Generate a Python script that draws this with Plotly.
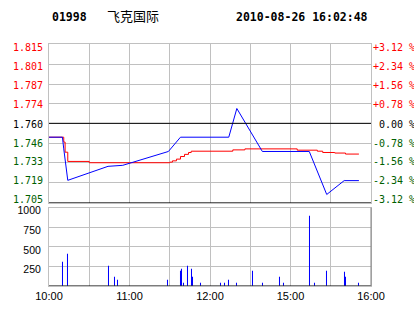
import plotly.graph_objects as go

# ---------------- data ----------------
code = "01998"
name = "飞克国际"
stamp = "2010-08-26 16:02:48"
prev_close = 1.760

price_min = [0, 10, 11, 14, 44, 55, 89, 98, 134, 140, 159, 194, 207, 220, 231]
price_val = [1.7504, 1.7504, 1.7423, 1.7205, 1.7302, 1.7309, 1.7405, 1.7504,
             1.7504, 1.7703, 1.7405, 1.7405, 1.7107, 1.7203, 1.7203]

avg_min = [0, 11, 12, 14, 30, 90, 92, 95, 98, 101, 104, 106, 137, 146, 185, 200, 204, 213, 221, 231]
avg_val = [1.7504, 1.7470, 1.7400, 1.7336, 1.7327, 1.7331, 1.7340, 1.7352, 1.7370, 1.7385,
           1.7398, 1.7407, 1.7416, 1.7423, 1.7414, 1.7407, 1.7398, 1.7394, 1.7387, 1.7387]

vol_min = [10, 14, 44, 49, 51, 88, 98, 99, 100, 103, 106, 107, 113, 128, 131, 134, 140,
           152, 159, 172, 175, 194, 198, 207, 220, 221, 231]
vol_val = [308, 409, 257, 118, 80, 80, 194, 219, 42, 257, 219, 118, 42, 42, 42, 80, 42,
           194, 42, 118, 42, 903, 42, 194, 181, 118, 42]

price_ticks = [1.815, 1.801, 1.787, 1.774, 1.760, 1.746, 1.733, 1.719, 1.705]
price_labels = ["1.815", "1.801", "1.787", "1.774", "1.760", "1.746", "1.733", "1.719", "1.705"]
pct_labels = ["+3.12 %", "+2.34 %", "+1.56 %", "+0.78 %", " 0.00 %", "-0.78 %", "-1.56 %", "-2.34 %", "-3.12 %"]

vol_ticks = [250, 500, 750, 1000]
vol_labels = ["250", "500", "750", "1000"]

x_ticks = [0, 30, 60, 90, 120, 150, 180, 210, 240]
x_labels = ["10:00", "", "11:00", "", "12:00", "", "15:00", "", "16:00"]

# ---------------- styling ----------------
RED = "#ff0000"
GREEN = "#006000"
BLUE = "#0000ff"
GRID = "#c0c0c0"
MONO = "DejaVu Sans Mono"
SANS = "Liberation Sans, Arial"
# small vertical nudges of the price labels (pixels, + = up), edge labels pushed inward
label_nudge = [-3, -2, -1, -1, -1, 0, 1, 2, 3]


def label_color(v):
    if v > prev_close + 1e-9:
        return RED
    if v < prev_close - 1e-9:
        return GREEN
    return "#000000"


fig = go.Figure()
fig.add_trace(go.Scatter(x=avg_min, y=avg_val, mode="lines", line=dict(color=RED, width=1, shape="hv"),
                         xaxis="x", yaxis="y", hoverinfo="skip"))
fig.add_trace(go.Scatter(x=price_min, y=price_val, mode="lines", line=dict(color=BLUE, width=1),
                         xaxis="x", yaxis="y", hoverinfo="skip"))
fig.add_trace(go.Bar(x=vol_min, y=vol_val, width=240 / 322,
                     marker=dict(color=BLUE, line=dict(width=0.02, color=BLUE)),
                     xaxis="x2", yaxis="y2", hoverinfo="skip"))

price_dom = [1 - 160 / 244, 1]
vol_dom = [0, 79 / 244]

axis_common = dict(showgrid=True, gridcolor=GRID, gridwidth=1, zeroline=False,
                   showline=True, linecolor=GRID, linewidth=1, mirror=True, ticks="")

fig.update_layout(
    width=414, height=314,
    margin=dict(l=49, r=43, t=44, b=26),
    paper_bgcolor="white", plot_bgcolor="white",
    showlegend=False,
    xaxis=dict(domain=[0, 1], range=[0, 240], tickvals=x_ticks, showticklabels=False,
               anchor="y", **axis_common),
    xaxis2=dict(domain=[0, 1], range=[0, 240], tickvals=x_ticks, ticktext=x_labels,
                anchor="y2", matches="x", tickfont=dict(family=SANS, size=11, color="#000"),
                **axis_common),
    yaxis=dict(domain=price_dom, range=[1.705, 1.815], tickvals=price_ticks,
               showticklabels=False, **axis_common),
    yaxis2=dict(domain=vol_dom, range=[0, 1000], tickvals=vol_ticks, ticktext=vol_labels,
                tickfont=dict(family=SANS, size=10.5, color="#000"), ticklabelstandoff=5,
                ticklabelshift=3, anchor="x2", **axis_common),
    bargap=0,
)

# price tick labels (left: price, right: percent change)
for v, lt, rt, dy in zip(price_ticks, price_labels, pct_labels, label_nudge):
    c = label_color(v)
    fig.add_annotation(text=lt, xref="paper", yref="y", x=0, y=v, xanchor="right",
                       yanchor="middle", xshift=-4, yshift=dy, showarrow=False,
                       font=dict(family=MONO, size=10, color=c))
    fig.add_annotation(text=rt.replace(" ", "\u00a0"), xref="paper", yref="y", x=1, y=v,
                       xanchor="left", yanchor="middle", xshift=0, yshift=dy, showarrow=False,
                       font=dict(family=MONO, size=10, color=c))

# reference lines
fig.add_shape(type="line", xref="x domain", yref="y", x0=0, x1=1, y0=prev_close, y1=prev_close,
              line=dict(color="black", width=1))
fig.add_shape(type="line", xref="x domain", yref="y", x0=0, x1=1, y0=1.705, y1=1.705,
              line=dict(color="black", width=1))
fig.add_shape(type="line", xref="x2 domain", yref="y2", x0=0, x1=1, y0=0, y1=0,
              line=dict(color="black", width=1))
fig.add_shape(type="line", xref="x2 domain", yref="y2 domain", x0=1, x1=1, y0=0, y1=1,
              line=dict(color="#808080", width=1))

# header
fig.add_annotation(text="<b>%s</b>" % code, xref="paper", yref="paper", x=0.003, y=1 + (44 - 17) / 244,
                   xanchor="left", yanchor="middle", showarrow=False,
                   font=dict(family=MONO, size=11.5, color="#000"))
fig.add_annotation(text=name, xref="paper", yref="paper", x=(105 - 49) / 322, y=1 + (44 - 15) / 244,
                   xanchor="left", yanchor="middle", showarrow=False,
                   font=dict(family="Noto Sans CJK SC", size=13, color="#000"))
fig.add_annotation(text="<b>%s</b>" % stamp, xref="paper", yref="paper", x=(370 - 49) / 322,
                   y=1 + (44 - 17) / 244, xanchor="right", yanchor="middle", showarrow=False,
                   font=dict(family=MONO, size=11.5, color="#000"))

fig.write_html("out.html")
